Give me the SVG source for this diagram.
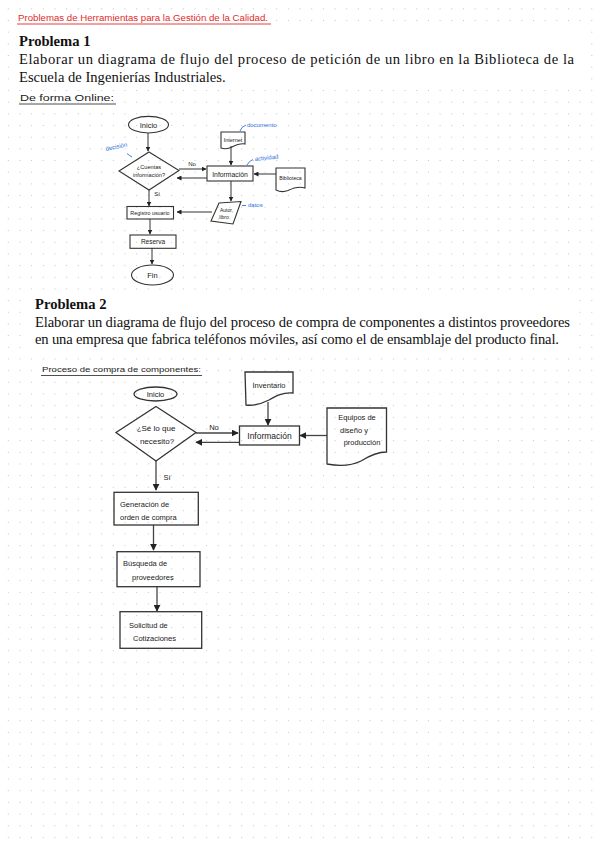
<svg xmlns="http://www.w3.org/2000/svg" width="600" height="848" viewBox="0 0 600 848">
<defs>
<pattern id="dots" x="7.8" y="8.35" width="11.67" height="11.67" patternUnits="userSpaceOnUse"><rect x="0" y="0" width="1" height="1" fill="#c2c2c2"/></pattern>
<marker id="ah" viewBox="0 0 10 10" refX="9" refY="5" markerWidth="5" markerHeight="5" orient="auto" markerUnits="userSpaceOnUse"><path d="M0,0 L10,5 L0,10 Z" fill="#222"/></marker>
<marker id="ah2" viewBox="0 0 10 10" refX="9" refY="5" markerWidth="7" markerHeight="7" orient="auto" markerUnits="userSpaceOnUse"><path d="M0,0 L10,5 L0,10 Z" fill="#222"/></marker>
</defs>
<style>
.serif{font-family:"Liberation Serif","Times New Roman",serif;fill:#111}
.h{font-family:"Liberation Sans",Arial,sans-serif;fill:#1a1a1a;text-anchor:middle}
.hl{font-family:"Liberation Sans",Arial,sans-serif;fill:#1a1a1a}
.blue{font-family:"Liberation Sans",Arial,sans-serif;fill:#2f6fe0}
.shape{fill:none;stroke:#333;stroke-width:1.1}
.shape2{fill:none;stroke:#333;stroke-width:1.3}
.c{fill:none;stroke:#333;stroke-width:1}
.c2{fill:none;stroke:#444;stroke-width:1.3}
.bl{fill:none;stroke:#2f6fe0;stroke-width:0.9}
</style>
<rect width="600" height="848" fill="#fff"/>
<rect width="600" height="848" fill="url(#dots)"/>

<!-- header -->
<g id="header">
<text x="18" y="21" class="hl" style="fill:#e02a2a" font-size="8.5" textLength="250" lengthAdjust="spacingAndGlyphs">Problemas de Herramientas para la Gestión de la Calidad.</text>
<line x1="17" y1="24" x2="271" y2="24" stroke="#e02a2a" stroke-width="0.9"/>
</g>

<!-- Problema 1 text -->
<g id="problema1">
<rect x="14" y="28" width="572" height="58" fill="#fff"/>
<text x="19" y="46" class="serif" font-size="14.6" font-weight="bold">Problema 1</text>
<text x="19" y="64.3" class="serif" font-size="14.6" textLength="555" lengthAdjust="spacing">Elaborar un diagrama de flujo del proceso de petición de un libro en la Biblioteca de la</text>
<text x="19" y="81.7" class="serif" font-size="14.6">Escuela de Ingenierías Industriales.</text>
</g>

<g id="subtitulo1">
<text x="20" y="101" class="hl" font-size="9" textLength="94" lengthAdjust="spacingAndGlyphs">De forma Online:</text>
<line x1="19" y1="104" x2="116" y2="104" stroke="#222" stroke-width="0.8"/>
</g>

<!-- Diagram 1 connectors -->
<g id="connectors1">
<path class="c" d="M148,133 V151" marker-end="url(#ah)"/>
<path class="c" d="M179,169 H206" marker-end="url(#ah)"/>
<path class="c" d="M207,178 H177" marker-end="url(#ah)"/>
<path class="c" d="M231,146 V165" marker-end="url(#ah)"/>
<path class="c" d="M276,174 H254" marker-end="url(#ah)"/>
<path class="c" d="M231,181 V201" marker-end="url(#ah)"/>
<path class="c" d="M212,212 H177" marker-end="url(#ah)"/>
<path class="c" d="M149,190 V206" marker-end="url(#ah)"/>
<path class="c" d="M150,219 V234" marker-end="url(#ah)"/>
<path class="c" d="M152,248 V264" marker-end="url(#ah)"/>
</g>

<g id="d1-inicio"><ellipse cx="148.5" cy="124.7" rx="20" ry="8.3" class="shape"/><text x="148.5" y="127.5" class="h" font-size="7.5">Inicio</text></g>
<g id="d1-decision"><path d="M149,152 L179,170.5 L149,190 L119,171 Z" class="shape"/><text x="149" y="168.5" class="h" font-size="5.6">¿Cuentas</text><text x="149" y="176.5" class="h" font-size="5.6">información?</text></g>
<g id="d1-info"><rect x="207" y="166" width="46" height="15" class="shape"/><text x="230" y="176.5" class="h" font-size="6.8">Información</text></g>
<g id="d1-internet"><path d="M221,132 H245 V144 C240,143 236,145 232,147 C228,149 224,149 221,148 Z" class="shape"/><text x="233" y="141.5" class="h" font-size="5.5">Internet</text></g>
<g id="d1-biblioteca"><path d="M276,168 H305 V188 C299,186 293,188 288,190.5 C283,192.5 279,191.5 276,190 Z" class="shape"/><text x="290.5" y="179.5" class="h" font-size="5.2">Biblioteca</text></g>
<g id="d1-datos"><path d="M219,203 L241,201.5 L233,224 L211,221 Z" class="shape"/><text x="226.5" y="211.5" class="h" font-size="5">Autor,</text><text x="224" y="219" class="h" font-size="5">libro</text></g>
<g id="d1-registro"><rect x="127" y="206.5" width="46.5" height="12.5" class="shape"/><text x="150" y="215.3" class="h" font-size="5.4">Registro usuario</text></g>
<g id="d1-reserva"><rect x="130" y="235" width="46" height="13.3" class="shape"/><text x="153" y="244" class="h" font-size="6.5">Reserva</text></g>
<g id="d1-fin"><ellipse cx="152.5" cy="275" rx="21" ry="10" class="shape"/><text x="152.5" y="278" class="h" font-size="7.5">Fin</text></g>

<g id="d1-labels">
<text x="192" y="166" class="h" font-size="6">No</text>
<text x="157" y="196" class="h" font-size="6">Sí</text>
<text x="106" y="151" class="blue" font-size="6" transform="rotate(-12 106 151)">decisión</text>
<path class="bl" d="M127,153.5 Q130,156 132,157"/>
<text x="247" y="127" class="blue" font-size="6">documento</text>
<path class="bl" d="M240,131 Q241,127 246,125"/>
<text x="255" y="161" class="blue" font-size="6" transform="rotate(-6 255 161)">actividad</text>
<path class="bl" d="M247,165 Q249,161 253,159.5"/>
<text x="248" y="207" class="blue" font-size="6">datos</text>
<path class="bl" d="M242,205.5 H246"/>
</g>

<!-- Problema 2 text -->
<g id="problema2">
<rect x="26" y="298" width="550" height="54" fill="#fff"/>
<text x="35" y="309" class="serif" font-size="14.6" font-weight="bold">Problema 2</text>
<text x="35" y="326.7" class="serif" font-size="14.6" textLength="535" lengthAdjust="spacing">Elaborar un diagrama de flujo del proceso de compra de componentes a distintos proveedores</text>
<text x="35" y="344.3" class="serif" font-size="14.6" textLength="524" lengthAdjust="spacing">en una empresa que fabrica teléfonos móviles, así como el de ensamblaje del producto final.</text>
</g>

<g id="subtitulo2">
<text x="42" y="372" class="hl" font-size="8" textLength="159" lengthAdjust="spacingAndGlyphs">Proceso de compra de componentes:</text>
<line x1="41" y1="375.5" x2="202" y2="375.5" stroke="#222" stroke-width="0.8"/>
</g>

<!-- Diagram 2 connectors -->
<g id="connectors2">
<path class="c2" d="M196,433 H238" marker-end="url(#ah2)"/>
<path class="c2" d="M239,442.3 H196" marker-end="url(#ah2)"/>
<path class="c2" d="M268,402 V425" marker-end="url(#ah2)"/>
<path class="c2" d="M327,435.5 H300" marker-end="url(#ah2)"/>
<path class="c2" d="M156,461 V490" marker-end="url(#ah2)"/>
<path class="c2" d="M153.5,525 V550" marker-end="url(#ah2)"/>
<path class="c2" d="M157,587 V611" marker-end="url(#ah2)"/>
</g>

<g id="d2-inicio"><ellipse cx="155.5" cy="394" rx="21.5" ry="7" class="shape2"/><text x="155.5" y="397" class="h" font-size="7.5">Inicio</text></g>
<g id="d2-decision"><path d="M156,406.5 L196,432.5 L156,461 L116,432.5 Z" class="shape2"/><text x="156" y="431" class="h" font-size="8">¿Sé lo que</text><text x="157" y="444" class="h" font-size="8">necesito?</text></g>
<g id="d2-inventario"><path d="M245,372 H293 V393 C283,392 276,396 269,400 C261,404 253,406 246,405 Z" class="shape2"/><text x="269" y="388" class="h" font-size="7.5">Inventario</text></g>
<g id="d2-info"><rect x="239.5" y="426" width="60" height="19" class="shape2"/><text x="269.5" y="438.5" class="h" font-size="8.5">Información</text></g>
<g id="d2-equipos"><path d="M327,408 H386.5 V452 C377,452 369,456 361,461 C351,466 338,466 327,464 Z" class="shape2"/><text x="357" y="420" class="h" font-size="7.5">Equipos de</text><text x="354" y="433" class="h" font-size="7.5">diseño y</text><text x="362" y="445" class="h" font-size="7.5">producción</text></g>
<g id="d2-generacion"><rect x="114" y="492.3" width="84.3" height="32.7" class="shape2"/><text x="120" y="507" class="hl" font-size="7.5">Generación de</text><text x="120" y="520" class="hl" font-size="7.5">orden de compra</text></g>
<g id="d2-busqueda"><rect x="117" y="551.7" width="83" height="35" class="shape2"/><text x="123" y="566" class="hl" font-size="7.5">Búsqueda de</text><text x="132" y="580" class="hl" font-size="7.5">proveedores</text></g>
<g id="d2-solicitud"><rect x="120" y="611.7" width="81.7" height="36.6" class="shape2"/><text x="129" y="628" class="hl" font-size="7.5">Solicitud de</text><text x="133" y="641" class="hl" font-size="7.5">Cotizaciones</text></g>

<g id="d2-labels">
<text x="214" y="430" class="h" font-size="7.5">No</text>
<text x="167" y="480" class="h" font-size="7.5">Sí</text>
</g>
</svg>
